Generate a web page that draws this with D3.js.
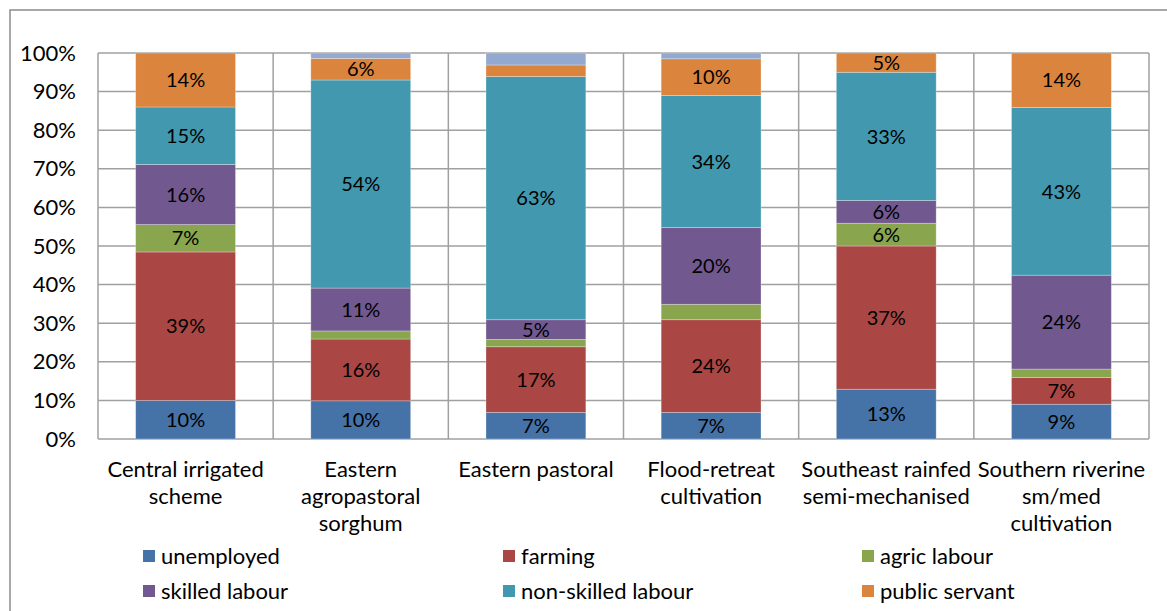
<!DOCTYPE html>
<html lang="en">
<head>
<meta charset="utf-8">
<title>Livelihood zones</title>
<script src="https://d3js.org/d3.v7.min.js"></script>
<style>
body { margin: 0; background: #fff; }
svg { font-family: Lato, "Open Sans", sans-serif; }
.grid line { stroke: #a0a0a0; stroke-width: 1.5; }
.tick text, .lbl, .cat, .leg { fill: #000; }
</style>
</head>
<body>
<svg width="1167" height="611"></svg>
<script>
// categories (livelihood zones), lines split with "|"
var zones = ["Central irrigated|scheme", "Eastern|agropastoral|sorghum", "Eastern pastoral",
             "Flood-retreat|cultivation", "Southeast rainfed|semi-mechanised", "Southern riverine|sm/med|cultivation"];

var seriesNames = ["unemployed", "farming", "agric labour", "skilled labour", "non-skilled labour", "public servant", "other"];
var colors = ["#4572a7", "#aa4643", "#89a54e", "#71588f", "#4198af", "#db843d", "#93a9cf"];

// share of households, %
var unemployed   = [10,   9.9, 6.9,  6.9, 12.9, 9.0];
var farming      = [38.5, 16,  17,   24,  37.1, 6.9];
var agricLabour  = [7.1,  2.1, 1.9,  4.0,  5.9, 2.2];
var skilled      = [15.6, 11.1, 5.1, 19.9, 5.9, 24.3];
var nonSkilled   = [14.9, 53.9, 63, 34.2, 33.2, 43.4];
var publicServ   = [14.0, 5.6, 3.0,  9.5,  5.0, 14.1];
var other        = [0,    1.4, 3.1,  1.5,  0,   0];

var yTicks = [0, 0.1, 0.2, 0.3, 0.4, 0.5, 0.6, 0.7, 0.8, 0.9, 1];

var allSeries = [unemployed, farming, agricLabour, skilled, nonSkilled, publicServ, other];
var rows = zones.map(function(z, i) {
  var r = { zone: z };
  seriesNames.forEach(function(s, j) { r[s] = allSeries[j][i]; });
  return r;
});

var svg = d3.select("svg");
var plotL = 98, plotR = 1149, plotT = 53, plotB = 439;
var fs = 22;

// outer frame
svg.append("path").attr("d", "M10,611V10H1167")
  .attr("fill", "none").attr("stroke", "#8c8c8c").attr("stroke-width", 1.5);

var x = d3.scaleBand().domain(zones).range([plotL, plotR]).paddingInner(0.43).paddingOuter(0.215);
var y = d3.scaleLinear().domain([0, 1]).range([plotB, plotT]);

// gridlines
var grid = svg.append("g").attr("class", "grid");
grid.selectAll("line.h").data(yTicks).enter().append("line")
  .attr("x1", plotL).attr("x2", plotR)
  .attr("y1", function(d) { return y(d); }).attr("y2", function(d) { return y(d); });
var step = (plotR - plotL) / zones.length;
grid.selectAll("line.v").data(d3.range(zones.length + 1)).enter().append("line")
  .attr("y1", plotT).attr("y2", plotB)
  .attr("x1", function(i) { return plotL + i * step; }).attr("x2", function(i) { return plotL + i * step; });

// y axis labels
var yAxis = svg.append("g").attr("transform", "translate(" + plotL + ",0)")
  .call(d3.axisLeft(y).tickValues(yTicks).tickFormat(d3.format(".0%")).tickSize(0).tickPadding(22));
yAxis.select(".domain").remove();
yAxis.selectAll("text").attr("font-size", fs).attr("font-family", "Lato, sans-serif");

var stack = d3.stack().keys(seriesNames).offset(d3.stackOffsetExpand);
var layers = stack(rows);

var g = svg.selectAll("g.layer").data(layers).enter().append("g")
  .attr("class", "layer").attr("fill", function(d, i) { return colors[i]; });

g.selectAll("rect").data(function(d) { return d; }).enter().append("rect")
  .attr("x", function(d) { return x(d.data.zone); })
  .attr("width", x.bandwidth())
  .attr("y", function(d) { return y(d[1]); })
  .attr("height", function(d) { return y(d[0]) - y(d[1]); })
  .attr("stroke", "rgba(255,255,255,0.35)").attr("stroke-width", 0.8);

// value labels
layers.forEach(function(layer) {
  svg.append("g").selectAll("text").data(layer.filter(function(d) { return d.data[layer.key] >= 4.5; }))
    .enter().append("text").attr("class", "lbl")
    .attr("x", function(d) { return x(d.data.zone) + x.bandwidth() / 2; })
    .attr("y", function(d) { return (y(d[0]) + y(d[1])) / 2; })
    .attr("dy", "0.36em").attr("text-anchor", "middle").attr("font-size", 20)
    .text(function(d) { return Math.round(d.data[layer.key]) + "%"; });
});

// category labels
zones.forEach(function(z) {
  var t = svg.append("text").attr("class", "cat").attr("text-anchor", "middle")
    .attr("font-size", fs).attr("x", x(z) + x.bandwidth() / 2).attr("y", 477);
  z.split("|").forEach(function(line, k) {
    t.append("tspan").attr("x", x(z) + x.bandwidth() / 2).attr("dy", k ? 27 : 0).text(line);
  });
});

// legend (first six series)
var legX = [143, 503, 862], legY = [556, 591];
seriesNames.slice(0, 6).forEach(function(s, i) {
  var lx = legX[i % 3], ly = legY[Math.floor(i / 3)];
  svg.append("rect").attr("x", lx).attr("y", ly - 6).attr("width", 12).attr("height", 12).attr("fill", colors[i]);
  svg.append("text").attr("class", "leg").attr("x", lx + 18).attr("y", ly).attr("dy", "0.36em")
    .attr("font-size", fs).text(s);
});
</script>
</body>
</html>
